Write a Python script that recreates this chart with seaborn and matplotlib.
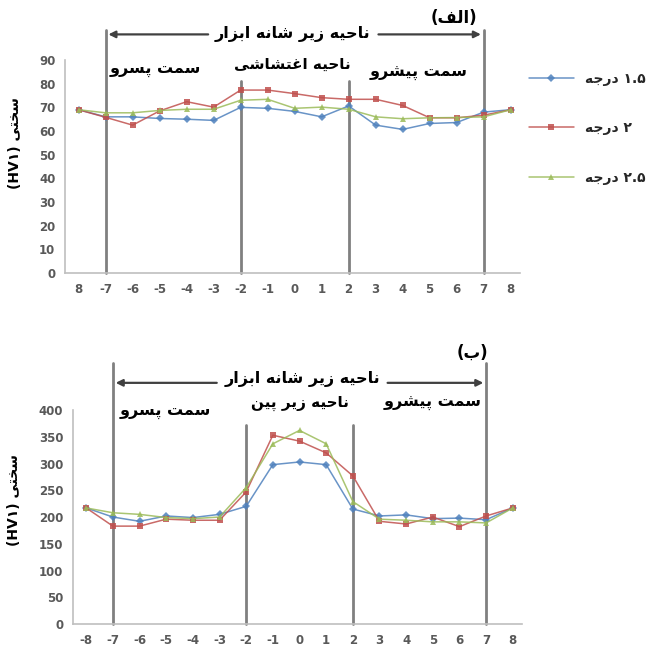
import seaborn as sns
import matplotlib.pyplot as plt

# x categories (the first top label really is "8" in the source chart)
top_labels = ["8", "-7", "-6", "-5", "-4", "-3", "-2", "-1", "0", "1", "2", "3", "4", "5", "6", "7", "8"]
bottom_labels = ["-8", "-7", "-6", "-5", "-4", "-3", "-2", "-1", "0", "1", "2", "3", "4", "5", "6", "7", "8"]

# hardness values, panel (alef)
top_15 = [69, 66, 66, 65.3, 65, 64.5, 70, 69.6, 68.3, 66, 70.6, 62.5, 60.7, 63.2, 63.6, 68, 69]
top_20 = [69, 65.8, 62.5, 68.5, 72.4, 70.1, 77.3, 77.3, 75.8, 74.1, 73.4, 73.4, 70.8, 65.6, 65.6, 66.7, 69]
top_25 = [69, 67.7, 67.7, 68.7, 69.2, 69.2, 73, 73.4, 69.6, 70.1, 69.2, 66, 65.2, 65.6, 65.7, 66, 69]

# panel (be)
bottom_15 = [217, 200, 192, 202, 199, 205, 220, 298, 303, 298, 215, 202, 204, 197, 198, 195, 217]
bottom_20 = [217, 183, 183, 196, 194, 194, 247, 353, 342, 320, 277, 192, 187, 200, 182, 202, 217]
bottom_25 = [217, 208, 205, 199, 197, 200, 255, 337, 362, 337, 229, 196, 194, 191, 191, 189, 217]

series_names = ["۱.۵", "۲", "۲.۵"]
zone_edges = ["-7", "-2", "2", "7"]

# presentation forms: isolated, final, initial, medial (2 forms = joins only to the right)
FORMS = {
    "ا": "\uFE8D\uFE8E",
    "ب": "\uFE8F\uFE90\uFE91\uFE92",
    "پ": "\uFB56\uFB57\uFB58\uFB59",
    "ت": "\uFE95\uFE96\uFE97\uFE98",
    "ج": "\uFE9D\uFE9E\uFE9F\uFEA0",
    "ح": "\uFEA1\uFEA2\uFEA3\uFEA4",
    "خ": "\uFEA5\uFEA6\uFEA7\uFEA8",
    "د": "\uFEA9\uFEAA",
    "ر": "\uFEAD\uFEAE",
    "ز": "\uFEAF\uFEB0",
    "س": "\uFEB1\uFEB2\uFEB3\uFEB4",
    "ش": "\uFEB5\uFEB6\uFEB7\uFEB8",
    "غ": "\uFECD\uFECE\uFECF\uFED0",
    "ف": "\uFED1\uFED2\uFED3\uFED4",
    "ل": "\uFEDD\uFEDE\uFEDF\uFEE0",
    "م": "\uFEE1\uFEE2\uFEE3\uFEE4",
    "ن": "\uFEE5\uFEE6\uFEE7\uFEE8",
    "ه": "\uFEE9\uFEEA\uFEEB\uFEEC",
    "و": "\uFEED\uFEEE",
    "ی": "\uFBFC\uFBFD\uFBFE\uFBFF",
}


def shape(word):
    out = []
    for i, ch in enumerate(word):
        forms = FORMS.get(ch)
        if forms is None:
            out.append(ch)
            continue
        prev = word[i - 1] if i > 0 else ""
        nxt = word[i + 1] if i + 1 < len(word) else ""
        join_prev = prev in FORMS and len(FORMS[prev]) == 4
        join_next = nxt in FORMS and len(forms) == 4
        if join_prev and join_next:
            k = 3
        elif join_prev:
            k = 1
        elif join_next:
            k = 2
        else:
            k = 0
        out.append(forms[k])
    return "".join(out)


def fa(text):
    """Shape Persian text and put it in visual (left-to-right) order."""
    mirror = {"(": ")", ")": "("}
    return "".join(mirror.get(c, c) for c in reversed(shape(text)))


sns.set_style("white")
plt.rcParams["font.family"] = ["DejaVu Sans"]

colors = ["#4F81BD", "#C0504D", "#9BBB59"]
markers = ["D", "s", "^"]
grey = "#595959"

fig = plt.figure(figsize=(6.51, 6.52), dpi=100)
ax_top = fig.add_axes([0.100, 0.581, 0.699, 0.327])
ax_bot = fig.add_axes([0.112, 0.043, 0.690, 0.328])

panels = [
    (ax_top, top_labels, [top_15, top_20, top_25], 90, 10),
    (ax_bot, bottom_labels, [bottom_15, bottom_20, bottom_25], 400, 50),
]

for ax, labels, data, ymax, step in panels:
    pos = list(range(len(labels)))
    for vals, name, col, mk in zip(data, series_names, colors, markers):
        sns.lineplot(
            x=pos, y=vals, ax=ax, color=col, marker=mk, markersize=4,
            markeredgewidth=0, linewidth=1.1, alpha=0.85,
            label=fa("درجه") + " " + name,
        )
    ax.set_xlim(-0.5, len(labels) - 0.65)
    ax.set_ylim(0, ymax)
    ax.set_yticks(range(0, ymax + 1, step))
    ax.set_xticks(pos)
    ax.set_xticklabels(labels)
    ax.tick_params(length=0, colors=grey, labelsize=8.5, pad=7)
    for t in ax.get_xticklabels() + ax.get_yticklabels():
        t.set_fontweight("bold")
    for s in ["top", "right"]:
        ax.spines[s].set_visible(False)
    for s in ["left", "bottom"]:
        ax.spines[s].set_color("#bfbfbf")
        ax.spines[s].set_linewidth(1.2)
    ax.set_ylabel("(HV۱) " + fa("سختی"), fontsize=10, fontweight="bold",
                  color="black")

    # zone boundaries: outer ones reach above the plot, inner ones a bit less
    for lab in zone_edges:
        x = labels.index(lab)
        if ax is ax_top:
            h = ymax * (1.14 if lab in ("-7", "7") else 0.90)
        else:
            h = ymax * (1.222 if lab in ("-7", "7") else 0.93)
        ax.plot([x, x], [0, h], color="#808080", lw=2, clip_on=False, zorder=1)

    if ax is ax_top:
        ax.legend(loc="upper left", bbox_to_anchor=(1.02, 0.945), frameon=False,
                  borderaxespad=0, borderpad=0, handlelength=3.2,
                  labelspacing=2.55, prop={"size": 10, "weight": "bold"})
    else:
        ax.get_legend().remove()

ax_top.yaxis.set_label_coords(-0.095, 0.61)
ax_bot.yaxis.set_label_coords(-0.115, 0.58)

txt = dict(ha="center", va="center", fontweight="bold", color="black",
           annotation_clip=False)
arrow = dict(arrowstyle="-|>", color="#404040", lw=1.6, mutation_scale=10)

# panel (alef) annotations
ax_top.annotate(fa("ناحیه زیر شانه ابزار"), xy=(7.9, 100.8), fontsize=11.5, **txt)
ax_top.annotate("", xy=(1, 100.8), xytext=(4.9, 100.8), arrowprops=arrow,
                annotation_clip=False)
ax_top.annotate("", xy=(15, 100.8), xytext=(11.0, 100.8), arrowprops=arrow,
                annotation_clip=False)
ax_top.annotate(fa("(الف)"), xy=(13.9, 107.8), fontsize=12, **txt)
ax_top.annotate(fa("ناحیه اغتشاشی"), xy=(7.9, 88), fontsize=11, **txt)
ax_top.annotate(fa("سمت پسرو"), xy=(2.85, 85.5), fontsize=11.5, **txt)
ax_top.annotate(fa("سمت پیشرو"), xy=(12.6, 84.5), fontsize=11.5, **txt)

# panel (be) annotations
ax_bot.annotate(fa("ناحیه زیر شانه ابزار"), xy=(8.1, 458), fontsize=11.5, **txt)
ax_bot.annotate("", xy=(1, 451), xytext=(5.0, 451), arrowprops=arrow,
                annotation_clip=False)
ax_bot.annotate("", xy=(15, 451), xytext=(11.2, 451), arrowprops=arrow,
                annotation_clip=False)
ax_bot.annotate(fa("(ب)"), xy=(14.5, 507), fontsize=12, **txt)
ax_bot.annotate(fa("ناحیه زیر پین"), xy=(8.0, 412), fontsize=11, **txt)
ax_bot.annotate(fa("سمت پسرو"), xy=(2.95, 395), fontsize=11.5, **txt)
ax_bot.annotate(fa("سمت پیشرو"), xy=(13.0, 412), fontsize=11.5, **txt)

fig.savefig("out.png", dpi=100)
